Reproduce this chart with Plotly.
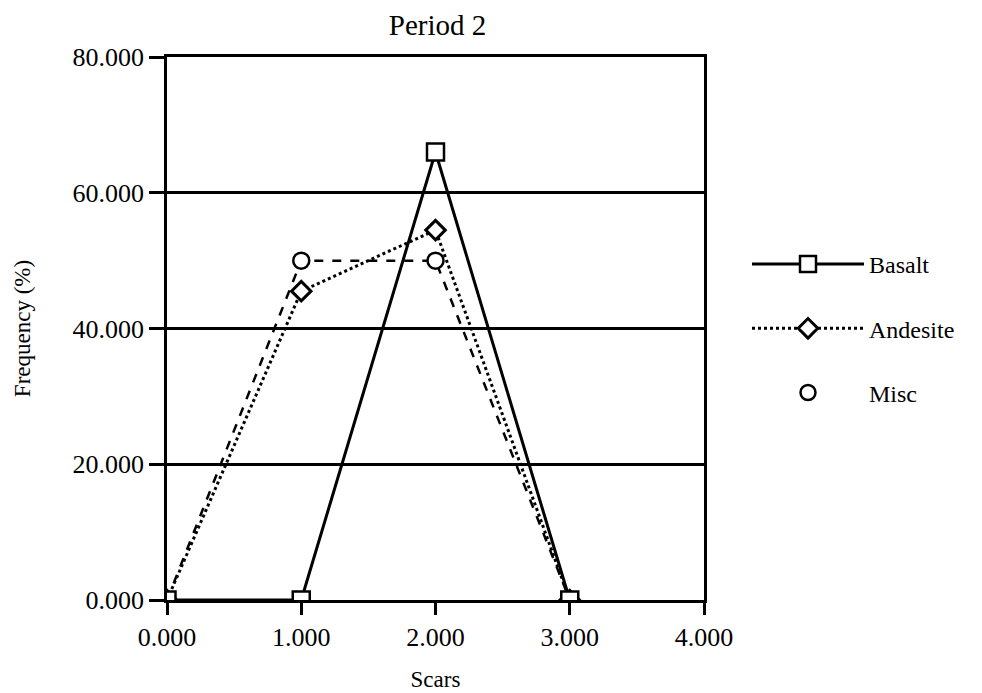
import plotly.graph_objects as go

scars = [0, 1, 2, 3]
basalt = [0, 0, 66, 0]
andesite = [0, 45.5, 54.5, 0]
misc = [0, 50, 50, 0]
x_ticks = [0, 1, 2, 3, 4]
y_ticks = [0, 20, 40, 60, 80]

FONT = "Liberation Serif"

W, H = 982, 693
L, T = 159, 49
PW, PH = 537, 543
R = W - L - PW
B = H - T - PH

fig = go.Figure()

fig.add_trace(go.Scatter(
    x=scars, y=misc, mode="lines+markers", name="Misc", showlegend=False,
    line=dict(color="black", width=2.5, dash="dash"),
    marker=dict(symbol="circle", size=16, color="white", line=dict(color="black", width=2.5)),
))
fig.add_trace(go.Scatter(
    x=scars, y=andesite, mode="lines+markers", name="Andesite", legendgroup="b", legendrank=2,
    line=dict(color="black", width=3, dash="dot"),
    marker=dict(symbol="diamond", size=15, color="white", line=dict(color="black", width=3)),
))
fig.add_trace(go.Scatter(
    x=scars, y=basalt, mode="lines+markers", name="Basalt", legendgroup="a", legendrank=1,
    line=dict(color="black", width=3),
    marker=dict(symbol="square", size=17, color="white", line=dict(color="black", width=2.5)),
))
fig.add_trace(go.Scatter(
    x=[None], y=[None], mode="markers", name="Misc", legendgroup="c", legendrank=3,
    marker=dict(symbol="circle", size=15, color="white", line=dict(color="black", width=2.5)),
))

fig.update_layout(
    width=W, height=H,
    paper_bgcolor="white", plot_bgcolor="white",
    margin=dict(l=L, r=R, t=T, b=B),
    font=dict(family=FONT, color="black", size=24),
    title=dict(text="Period 2", x=(L + PW / 2 + 2) / W, xanchor="center",
               y=1 - 17 / H, yanchor="middle", font=dict(size=29, family=FONT)),
    legend=dict(x=(747 - 8 - L) / PW, y=0.5, xanchor="left", yanchor="middle",
                font=dict(size=24, family=FONT), tracegroupgap=30,
                itemwidth=112, bgcolor="rgba(0,0,0,0)"),
)

fig.update_xaxes(
    range=[0, 4], tickvals=x_ticks, tickformat=".3f",
    showgrid=False, zeroline=False,
    showline=True, linecolor="black", linewidth=2.5, mirror=True,
    ticks="outside", ticklen=12, tickwidth=2.5, tickcolor="black",
    tickfont=dict(size=26, family=FONT),
    title=dict(text="Scars", font=dict(size=23, family=FONT), standoff=20),
)
fig.update_yaxes(
    range=[0, 80], tickvals=y_ticks, tickformat=".3f",
    showgrid=True, gridcolor="black", gridwidth=2.5, zeroline=False,
    showline=True, linecolor="black", linewidth=2.5, mirror=True,
    ticks="outside", ticklen=15, tickwidth=2.5, tickcolor="black",
    tickfont=dict(size=26, family=FONT),
    title=dict(text="Frequency (%)", font=dict(size=23, family=FONT), standoff=36),
)

fig.write_html("out.html")
